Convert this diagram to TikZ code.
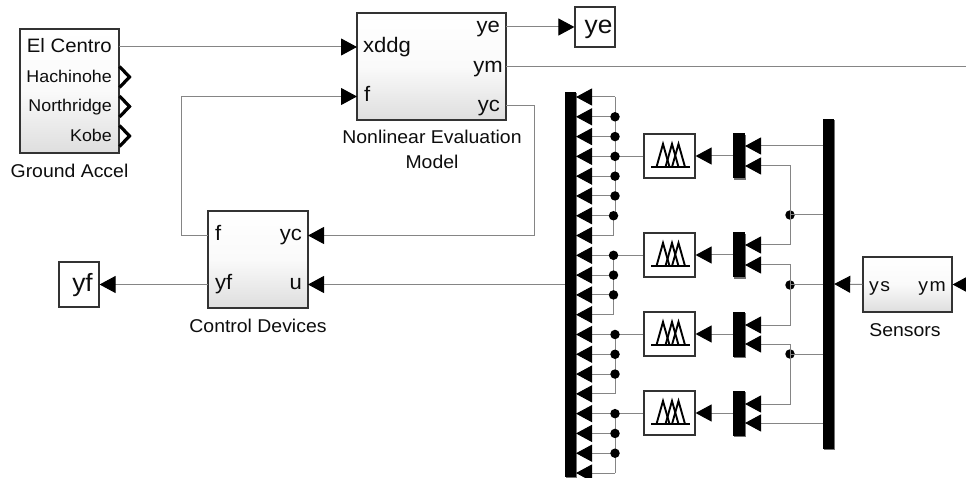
\documentclass[tikz,border=0pt]{standalone}
\usepackage{fontspec}
\setmainfont[FakeStretch=1.05]{Liberation Sans}
\usetikzlibrary{arrows.meta,shadows}
\newcommand{\tightspace}[1]{{\spaceskip=1.5pt #1}}
\tikzset{
  x=1pt,y=-1pt,
  shade base/.style={general shadow={shadow xshift=1.3pt,shadow yshift=-1.3pt,fill=black!55}},
  block/.style={shape=rectangle,draw=black!80,line width=1.2pt,inner sep=0pt,top color=white,bottom color=black!13,middle color=white!98!black,shade base},
  plainblock/.style={shape=rectangle,draw=black!80,line width=1.2pt,inner sep=0pt,fill=white,shade base},
  bus/.style={shape=rectangle,fill=black,inner sep=0pt,shade base},
  wire/.style={draw=black!48,line width=1pt},
  arrow/.style={wire,-{Triangle[length=16pt,width=17pt,color=black,fill=black]}},
  dot/.style={shape=circle,fill=black,inner sep=0pt,minimum size=9.5pt},
  lab/.style={inner sep=0pt,font=\fontsize{18.5}{20}\selectfont,text=black!95},
  smalllab/.style={inner sep=0pt,font=\fontsize{17}{20}\selectfont,text=black!95},
  portlab/.style={inner sep=0pt,font=\fontsize{21}{23}\selectfont,text=black!95},
  centrolab/.style={inner sep=0pt,font=\fontsize{19.4}{21}\selectfont,text=black!95},
  bigl/.style={inner sep=0pt,font=\fontsize{25}{27}\selectfont,text=black!95},
  chevron/.style={draw=black,line width=3.2pt,miter limit=3},
  fisline/.style={draw=black,line width=1.9pt},
  pics/fis/.style={code={
    \draw[fisline] (-18.5,11) -- (20.5,11);
    \draw[fisline] (-13,11) -- (-6.5,-12) -- (0,11);
    \draw[fisline] (-4,11) -- (2.5,-12) -- (9,11);
    \draw[fisline] (2.5,11) -- (9,-12) -- (15.5,11);
  }}
}
\begin{document}
\begin{tikzpicture}
\useasboundingbox (0,0) rectangle (966,478);
\fill[white] (0,0) rectangle (966,478);
\clip (0,0) rectangle (966,478);

% blocks
\node[block,minimum width=99pt,minimum height=124pt] (ga) at (69.5,91) {};
\node[block,minimum width=149pt,minimum height=107pt] (nem) at (431.5,66.5) {};
\node[plainblock,minimum width=40pt,minimum height=40pt] (yebox) at (595,27) {};
\node[block,minimum width=100pt,minimum height=97pt] (cd) at (258,259.5) {};
\node[plainblock,minimum width=40pt,minimum height=45pt] (yfbox) at (79,284.5) {};
\node[block,minimum width=89pt,minimum height=55pt] (sens) at (907.5,284.5) {};
\node[bus,minimum width=11pt,minimum height=385pt] (lbus) at (570.5,284.5) {};
\node[bus,minimum width=11pt,minimum height=330pt] (rbus) at (828.5,284) {};

% fuzzy blocks and muxes
\foreach \n/\cy in {1/156,2/255,3/334,4/413}{
  \node[plainblock,minimum width=51pt,minimum height=44pt] (fis\n) at (669.5,\cy) {};
  \pic at (669.5,\cy) {fis};
  \node[bus,minimum width=12pt,minimum height=45pt] (mux\n) at (739,\cy) {};
  \draw[arrow] (mux\n.west) -- (fis\n.east);
}

% block text
\node[centrolab,anchor=base east] (t1) at (112,53) {El Centro};
\node[smalllab,anchor=base east] (t2) at (112,83) {Hachinohe};
\node[smalllab,anchor=base east] (t3) at (112,112) {Northridge};
\node[smalllab,anchor=base east] (t4) at (112,142) {Kobe};
\node[lab,anchor=base] (t5) at (69.5,178) {Ground Accel};
\node[portlab,anchor=base west] (t6) at (363,53) {xddg};
\node[portlab,anchor=base west] (t7) at (364,102) {f};
\node[portlab,anchor=base east] (t8) at (500,33) {ye};
\node[portlab,anchor=base east] (t9) at (503,73) {ym};
\node[portlab,anchor=base east] (t10) at (500,112) {yc};
\node[lab,anchor=base] (t11) at (432,144) {Nonlinear Evaluation};
\node[lab,anchor=base] (t12) at (432,169) {Model};
\node[bigl,anchor=base] (t13) at (598.5,34) {ye};
\node[bigl,anchor=base] (t14) at (82.5,291) {yf};
\node[portlab,anchor=base west] (t15) at (215,241) {f};
\node[portlab,anchor=base east] (t16) at (302,241) {yc};
\node[portlab,anchor=base west] (t17) at (215,290) {yf};
\node[portlab,anchor=base east] (t18) at (302,290) {u};
\node[lab,anchor=base] (t19) at (258,332) {Control Devices};
\node[lab,anchor=base west] (t20) at (869,291) {\tightspace{y s}};
\node[lab,anchor=base east] (t21) at (946,291) {\tightspace{y m}};
\node[lab,anchor=base] (t22) at (905,336) {Sensors};

% named ports
\coordinate (gaO) at (119,47);
\coordinate (nemI1) at (357,47);
\coordinate (nemI2) at (357,96.5);
\coordinate (nemOe) at (506,27);
\coordinate (nemOm) at (506,67);
\coordinate (nemOc) at (506,106);
\coordinate (cdF) at (208,235.5);
\coordinate (cdYc) at (308,235.5);
\coordinate (cdYf) at (208,284.5);
\coordinate (cdU) at (308,284.5);
\coordinate (ymEnd) at (966,67);
\coordinate (ymIn) at (972,284.5);

% unconnected outports
\foreach \y in {77,106.5,136}{
  \draw[chevron] (119.5,\y-10.5) -- (129.5,\y) -- (119.5,\y+10.5);
}

% main connectors
\draw[arrow] (gaO) -- (nemI1);
\draw[arrow] (nemOe) -- (yebox.west);
\draw[wire] (nemOm) -- (ymEnd);
\draw[arrow] (nemOc) -- (534,106) -- (534,235.5) -- (cdYc);
\draw[arrow] (cdF) -- (181,235.5) -- (181,96.5) -- (nemI2);
\draw[arrow] (cdYf) -- (yfbox.east);
\draw[arrow] (lbus.west) -- (cdU);
\draw[arrow] (sens.west) -- (rbus.east);
\draw[arrow] (ymIn) -- (sens.east);

% outputs of the fuzzy blocks to the left bus
\foreach \i in {0,...,19}{
  \pgfmathsetmacro{\yy}{97+19.79*\i}
  \coordinate (L\i) at (576,\yy);
}
\foreach \i/\xx in {0/615,1/615,2/615,3/615,4/615,5/615,6/613.5,7/613.5,8/613.5,9/613.5,10/613.5,11/613.5,12/615,13/615,14/615,15/615,16/615,17/615,18/615,19/615}{
  \coordinate (J\i) at (\xx,0 |- L\i);
  \draw[arrow] (J\i) -- (L\i);
}
\draw[wire] (J0) -- (615,0 |- J6);
\draw[wire] (J6) -- (J7);
\draw[wire] (J8) -- (J11);
\draw[wire] (J12) -- (J15);
\draw[wire] (J16) -- (J19);
\draw[wire] (J3) -- (fis1.west |- J3);
\draw[wire] (J8) -- (fis2.west |- J8);
\draw[wire] (J12) -- (fis3.west |- J12);
\draw[wire] (J16) -- (fis4.west |- J16);
\foreach \i in {1,2,3,4,5,6,8,9,10,12,13,14,16,17,18}{
  \node[dot] (d\i) at (J\i) {};
}

% right bus to the muxes
\coordinate (m1a) at (745,146);
\coordinate (m1b) at (745,166);
\coordinate (m2a) at (745,245);
\coordinate (m2b) at (745,265);
\coordinate (m3a) at (745,325);
\coordinate (m3b) at (745,344);
\coordinate (m4a) at (745,404);
\coordinate (m4b) at (745,423);
\coordinate (r1) at (823,146);
\coordinate (r2) at (823,215);
\coordinate (r3) at (823,285);
\coordinate (r4) at (823,354);
\coordinate (r5) at (823,423);
\node[dot] (j2) at (790,215) {};
\node[dot] (j3) at (790,285) {};
\node[dot] (j4) at (790,354) {};
\draw[arrow] (r1) -- (m1a);
\draw[arrow] (j2.center) -- (790,166) -- (m1b);
\draw[arrow] (j2.center) -- (790,245) -- (m2a);
\draw[wire] (r2) -- (j2.center);
\draw[arrow] (j3.center) -- (790,265) -- (m2b);
\draw[arrow] (j3.center) -- (790,325) -- (m3a);
\draw[wire] (r3) -- (j3.center);
\draw[arrow] (j4.center) -- (790,344) -- (m3b);
\draw[arrow] (j4.center) -- (790,404) -- (m4a);
\draw[wire] (r4) -- (j4.center);
\draw[arrow] (r5) -- (m4b);
\end{tikzpicture}
\end{document}
